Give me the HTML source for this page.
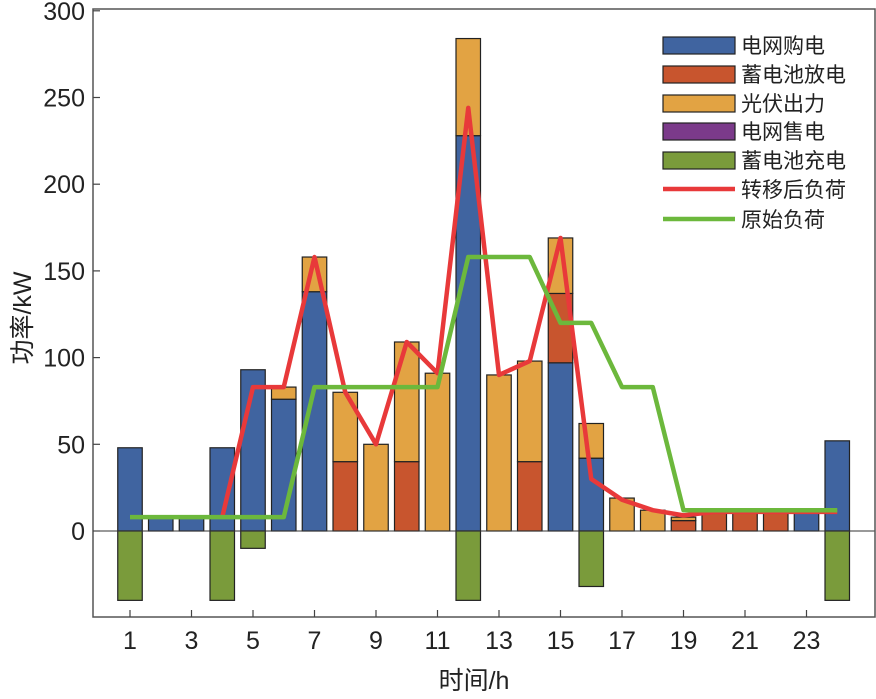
<!DOCTYPE html>
<html><head><meta charset="utf-8">
<style>
body{margin:0;background:#fff;}
svg text{font-family:"Liberation Sans","Noto Sans CJK SC",sans-serif;fill:#222;}
</style></head>
<body>
<svg id="chart" width="876" height="694" xmlns="http://www.w3.org/2000/svg">
<g id="bars"></g>
<g id="lines"></g>
<g id="axes"></g>
<g id="legend"></g>
</svg>
<script>
const hours = [1,2,3,4,5,6,7,8,9,10,11,12,13,14,15,16,17,18,19,20,21,22,23,24];
const gridBuy   = [48,8,8,48,93,76,138,0,0,0,0,228,0,0,97,42,0,0,0,0,0,0,11,52];
const battDis   = [0,0,0,0,0,0,0,40,0,40,0,0,0,40,40,0,0,0,6,11,11,11,0,0];
const pvOut     = [0,0,0,0,0,7,20,40,50,69,91,56,90,58,32,20,19,12,2,0,0,0,0,0];
const gridSell  = [0,0,0,0,0,0,0,0,0,0,0,0,0,0,0,0,0,0,0,0,0,0,0,0];
const battChg   = [-40,0,0,-40,-10,0,0,0,0,0,0,-40,0,0,0,-32,0,0,0,0,0,0,0,-40];
const shiftedLoad = [null,null,null,8,83,83,158,80,50,109,91,244,90,98,169,30,18,12,9,11,11,11,11,11];
const originalLoad = [8,8,8,8,8,8,83,83,83,83,83,158,158,158,120,120,83,83,12,12,12,12,12,12];
const yTicks = [0,50,100,150,200,250,300];
const xTicks = [1,3,5,7,9,11,13,15,17,19,21,23];
const seriesNames = ["电网购电","蓄电池放电","光伏出力","电网售电","蓄电池充电","转移后负荷","原始负荷"];

const NS="http://www.w3.org/2000/svg";
const L=93,R=875,T=9,B=617;
const x=h=>130+(h-1)*30.75;
const y=v=>531-v*1.734;
const BW=24.5;
const colors=["#4064a0","#c8552e","#e2a343","#7b3a8a","#7a9b3b"];
function mk(tag,attrs,parent){const e=document.createElementNS(NS,tag);for(const k in attrs)e.setAttribute(k,attrs[k]);parent.appendChild(e);return e;}
const bars=document.getElementById('bars');
const stacks=[gridBuy,battDis,pvOut];
hours.forEach((h,i)=>{
  let base=0;
  stacks.forEach((s,k)=>{
    const v=s[i]; if(v<=0)return;
    const r=mk('rect',{x:x(h)-BW/2,y:y(base+v),width:BW,height:y(base)-y(base+v),fill:colors[k],stroke:'#222','stroke-width':1.2},bars);
    
    
    base+=v;
  });
  let nb=0;
  [gridSell,battChg].forEach((s,k)=>{
    const v=s[i]; if(v>=0)return;
    const r=mk('rect',{x:x(h)-BW/2,y:y(nb),width:BW,height:y(nb+v)-y(nb),fill:colors[3+k],stroke:'#222','stroke-width':1.2},bars);
    
    
    nb+=v;
  });
});
const axes=document.getElementById('axes');
mk('line',{x1:L,x2:R,y1:y(0),y2:y(0),stroke:'#333','stroke-width':1},axes);
mk('rect',{x:L,y:T,width:R-L,height:B-T,fill:'none',stroke:'#555','stroke-width':1.5},axes);
yTicks.forEach(t=>{
  mk('line',{x1:L,x2:L+7,y1:y(t),y2:y(t),stroke:'#444','stroke-width':1.2},axes);
  const tx=mk('text',{x:L-8,y:y(t)+9,'text-anchor':'end','font-size':25},axes);tx.textContent=t;
  
  
});
xTicks.forEach(t=>{
  mk('line',{x1:x(t),x2:x(t),y1:B,y2:B-7,stroke:'#444','stroke-width':1.2},axes);
  const tx=mk('text',{x:x(t),y:649,'text-anchor':'middle','font-size':25},axes);tx.textContent=t;
  
  
});
let xt=mk('text',{x:474,y:689,'text-anchor':'middle','font-size':25},axes);xt.textContent='时间/h';


let yt=mk('text',{x:0,y:0,'text-anchor':'middle','font-size':25,transform:'translate(31,318) rotate(-90)'},axes);yt.textContent='功率/kW';



const lines=document.getElementById('lines');
function poly(data,color,name){
  const pts=[];data.forEach((v,i)=>{if(v!==null)pts.push(x(hours[i])+','+y(v));});
  const p=mk('polyline',{points:pts.join(' '),fill:'none',stroke:color,'stroke-width':4.5,'stroke-linejoin':'round'},lines);
  
  
}
poly(shiftedLoad,'#e8393a','shifted-load-line');
poly(originalLoad,'#6cb83c','original-load-line');

const lg=document.getElementById('legend');
const rowsY=[45,74,103,131,160,189,219];
seriesNames.forEach((n,i)=>{
  const yy=rowsY[i];
  if(i<5){mk('rect',{x:663,y:yy-8,width:72,height:17,fill:colors[i],stroke:'#222','stroke-width':1.2},lg);}
  else{mk('line',{x1:663,x2:735,y1:yy,y2:yy,stroke:i==5?'#e8393a':'#6cb83c','stroke-width':4.5},lg);}
  const t=mk('text',{x:741,y:yy+8,'font-size':21},lg);t.textContent=n;
  
  
});
</script>
</body></html>
